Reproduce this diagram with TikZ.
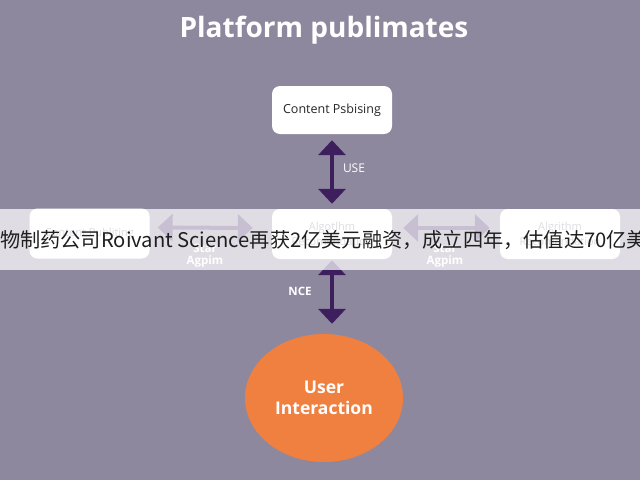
\documentclass[tikz,border=0pt]{standalone}
\usepackage{fontspec}
\setmainfont{Open Sans}
\newfontfamily\cjkfont{Noto Sans CJK SC}
\usetikzlibrary{arrows.meta,shapes.geometric}
\definecolor{bgc}{HTML}{8E889E}
\definecolor{arrowc}{HTML}{3D1F5E}
\definecolor{orangec}{HTML}{F0803F}
\definecolor{boxtext}{HTML}{262626}
\definecolor{faint}{HTML}{8A8599}
\begin{document}
\begin{tikzpicture}[x=1pt,y=-1pt,
  box/.style={draw=none, fill=white, rounded corners=8pt, minimum width=120pt, minimum height=50pt, inner sep=0pt, align=center},
  darr/.style={draw=arrowc, line width=4pt, {Triangle[width=27pt,length=15pt]}-{Triangle[width=27pt,length=15pt]}},
  lbl/.style={text=white, inner sep=0pt, font=\fontsize{12}{14}\selectfont},
  blbl/.style={text=white, inner sep=0pt, font=\bfseries\fontsize{11.5}{13}\selectfont}
]
\useasboundingbox (0,0) rectangle (640,480);
\clip (0,0) rectangle (640,480);
\fill[bgc] (0,0) rectangle (640,480);
\node[text=white, inner sep=0pt, font=\fontsize{28}{32}\selectfont\bfseries] (title) at (324,30) {Platform publimates};

\node[box, minimum height=48pt, text=boxtext, font=\fontsize{12.5}{14}\selectfont] (top) at (332,110) {Content Psbising};
\node[box, text=faint, font=\fontsize{11}{15}\selectfont] (left) at (89.5,233.5) {Content Publiting};
\node[box, text=faint, font=\fontsize{11}{15}\selectfont] (mid) at (332,234) {Algotlhm\\Recomendation};
\node[box, text=faint, font=\fontsize{11}{15}\selectfont] (right) at (560,234) {Algrithm\\Recomendation};
\node[ellipse, fill=orangec, minimum width=158pt, minimum height=128pt, inner sep=0pt, align=center, text=white, font=\bfseries\fontsize{17.5}{21}\selectfont] (user) at (324,398) {User\\Interaction};

\draw[darr, shorten <=6pt, shorten >=5pt] (top.south) -- (mid.north);
\draw[darr, shorten <=1pt, shorten >=10pt] (mid.south) -- (mid.south |- user.north);
\draw[darr, shorten <=8pt, shorten >=19pt] ([yshift=6pt]left.east) -- ([yshift=6pt]mid.west);
\draw[darr, shorten <=11pt, shorten >=10pt] ([yshift=6pt]mid.east) -- ([yshift=6pt]right.west);

\node[lbl] (use) at (354,168) {USE};
\node[blbl] (nce) at (300,291) {NCE};
\node[blbl] (star1) at (205,248) {Star};
\node[blbl] (agpim1) at (205,262) {Agpim};
\node[blbl] (star2) at (445,248) {Star};
\node[blbl] (agpim2) at (445,262) {Agpim};

\fill[white, opacity=0.72] (0,209) rectangle (640,270);
\node[anchor=west, inner sep=0pt, text=black!88, font=\cjkfont\fontsize{20.2}{24}\selectfont] (banner) at (0,240) {物制药公司Roivant Science再获2亿美元融资，成立四年，估值达70亿美};
\end{tikzpicture}
\end{document}
